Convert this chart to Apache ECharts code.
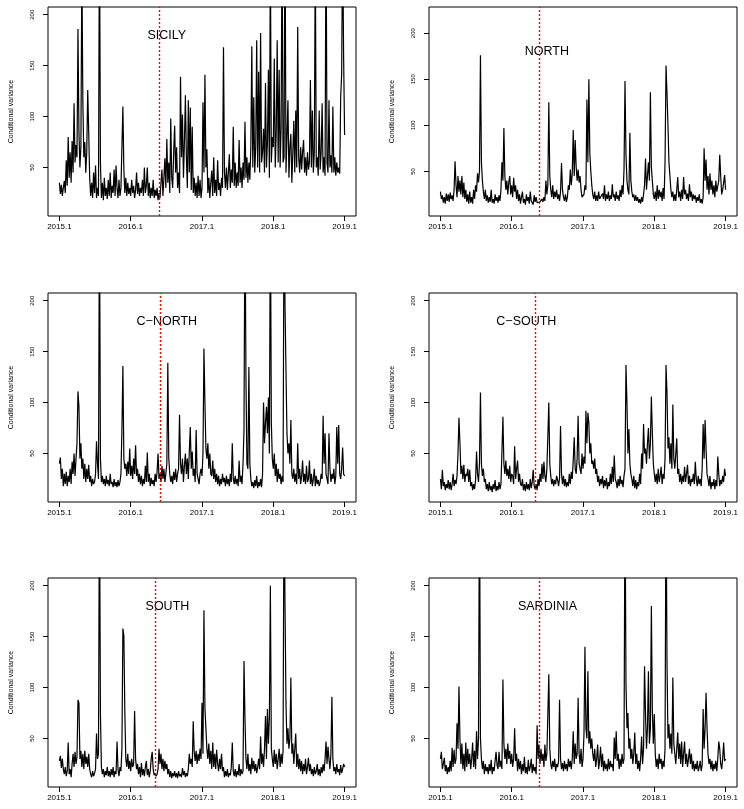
<!DOCTYPE html>
<html>
<head>
<meta charset="utf-8">
<title>Conditional variance</title>
<script src="https://cdn.jsdelivr.net/npm/echarts@6/dist/echarts.min.js"></script>
<style>
  html, body { margin: 0; padding: 0; background: #fff; }
  #chart { width: 744px; height: 809px; }
</style>
</head>
<body>
<div id="chart"></div>
<script>
// values read every 5 days, from 2015.1 to 2019.1
const STEP = 5;

const sicily = [
  35,24,33,22,30,37,25,57,32,80, 40,65,35,76,45,113,55,72,60,186,
  85,50,70,250,115,60,75,45,65,126, 85,40,22,35,20,45,25,52,20,30,
  22,300,55,20,35,18,40,22,30,19, 38,22,45,20,32,25,48,22,52,30,
  20,38,22,30,30,110,48,25,40,22, 35,24,30,22,38,25,32,20,28,45,
  24,35,22,30,25,38,22,50,25,32, 50,22,35,20,30,22,38,20,28,22,
  30,18,25,20,35,48,22,40,59,30, 78,35,55,25,98,40,30,65,91,45,
  70,30,45,25,139,60,102,40,75,121, 60,30,116,45,109,28,90,25,40,22,
  35,20,42,22,38,20,30,114,45,141, 50,68,25,40,20,35,47,22,60,25,
  38,22,57,28,35,22,40,30,168,45, 30,50,28,45,63,30,48,35,90,32,
  55,30,45,32,77,35,50,30,55,38, 95,40,60,35,55,38,70,169,50,119,
  45,70,175,50,144,45,182,55,65,88, 45,133,50,75,146,40,260,55,80,70,
  157,50,85,175,55,146,50,90,280,55, 60,300,45,80,116,40,70,83,35,65,
  96,45,106,50,188,60,45,70,48,65, 77,45,60,42,65,48,55,136,50,106,
  45,65,260,50,60,42,106,48,65,113, 45,60,42,300,55,45,116,50,62,45,
  110,45,60,42,55,45,50,44,119,142, 280,159,82
];
const north = [
  28,20,24,16,22,15,26,18,25,17, 27,20,24,18,30,61,35,22,45,28,
  40,25,45,22,38,20,30,17,25,15, 28,16,22,15,30,20,35,28,48,38,
  50,176,60,40,28,20,30,18,24,16, 22,17,30,16,20,15,25,18,22,16,
  24,18,30,60,40,97,45,30,40,25, 38,45,25,35,22,43,28,35,20,30,
  18,25,15,22,28,16,20,14,25,18, 22,15,28,18,20,14,24,17,22,16,
  18,15,17,16,20,17,22,18,40,25, 35,125,45,30,22,35,20,28,22,30,
  20,25,18,28,59,30,22,18,25,17, 22,35,30,52,35,48,95,45,84,55,
  40,52,38,45,30,22,20,25,35,30, 128,60,150,70,50,35,25,20,28,18,
  24,18,28,20,22,18,26,20,35,18, 25,20,28,18,24,20,36,22,25,18,
  28,20,24,18,30,22,35,25,52,148, 68,40,30,25,92,40,28,22,25,18,
  24,18,22,16,20,15,22,17,25,35, 64,30,45,60,40,136,55,40,25,20,
  28,18,35,20,30,22,28,18,32,20, 60,165,135,100,60,45,30,22,28,18,
  25,18,30,44,22,28,18,30,20,44, 25,30,20,26,18,36,22,28,18,25,
  20,24,16,22,18,25,16,20,15,22, 75,40,63,30,45,25,48,30,40,25,
  35,22,40,28,30,40,68,45,25,30, 28,46,30
];
const cNorth = [
  40,46,25,35,18,30,20,32,18,28, 22,35,20,42,30,50,28,45,60,111,
  96,45,60,35,45,25,40,22,35,25, 39,22,28,18,25,20,22,30,62,40,
  25,300,45,22,28,20,25,18,28,20, 24,18,30,20,22,17,25,18,22,17,
  24,18,22,30,73,136,45,35,40,28, 42,30,55,28,38,25,45,30,58,28,
  35,22,30,20,28,18,25,20,38,22, 51,22,30,18,26,20,24,18,30,22,
  32,50,25,30,22,38,25,35,22,30, 40,139,45,30,22,28,20,32,24,35,
  22,30,35,88,40,30,45,22,38,50, 30,45,25,52,76,35,52,28,35,22,
  73,30,25,20,30,35,28,50,153,100, 55,45,60,35,50,30,28,43,25,35,
  22,30,20,28,18,25,20,30,22,26, 18,28,20,25,18,30,22,60,25,20,
  28,20,25,18,43,22,28,20,40,73, 300,125,40,35,135,40,25,18,22,16,
  24,18,28,16,22,18,25,17,30,100, 60,80,96,70,105,50,300,80,45,35,
  50,28,40,22,35,25,30,20,28,22, 300,195,130,70,50,60,40,83,30,25,
  35,22,30,20,60,25,35,20,28,43, 22,30,20,38,22,25,43,20,30,18,
  25,35,18,28,20,24,18,22,30,25, 87,40,70,30,25,20,70,35,22,30,
  25,35,20,28,76,40,78,30,25,35, 56,30,28
];
const cSouth = [
  25,15,34,18,22,14,20,16,24,15, 22,14,20,30,18,24,20,28,50,85,
  60,30,38,25,39,22,30,28,35,22, 34,18,22,14,20,15,24,52,30,22,
  40,110,40,28,35,22,25,15,20,13, 22,14,18,12,20,15,24,13,18,14,
  22,15,20,52,86,40,30,43,28,35, 25,38,22,30,28,20,57,25,35,43,
  22,30,20,18,25,14,20,13,22,15, 20,14,25,16,22,34,18,15,20,14,
  25,18,30,22,40,25,42,28,22,35, 35,100,40,28,20,25,18,24,20,28,
  24,18,26,77,30,20,28,18,25,17, 22,18,30,20,32,25,43,66,35,30,
  45,87,40,35,30,50,35,47,40,92, 60,90,80,50,60,40,43,35,45,30,
  35,22,28,18,25,20,28,16,24,18, 26,15,22,18,30,20,37,22,48,25,
  22,16,25,18,28,20,24,17,28,35, 137,100,50,74,40,30,25,18,28,16,
  24,15,22,18,30,20,50,35,79,50, 55,40,60,75,45,60,106,70,40,30,
  22,30,20,35,22,28,37,20,30,25, 45,137,110,55,66,40,60,35,98,45,
  35,50,65,30,35,22,30,20,28,22, 37,22,30,39,20,28,18,25,22,30,
  20,42,25,18,28,20,25,18,35,79, 45,83,55,30,25,18,28,15,22,18,
  25,15,24,18,47,30,18,24,20,28, 22,35,28
];
const south = [
  28,33,21,30,20,15,22,13,18,46, 15,20,12,25,35,22,37,25,32,88,
  85,30,38,22,35,20,38,25,32,22, 35,20,15,12,18,13,16,20,55,30,
  35,300,75,22,15,20,12,18,14,22, 13,18,12,20,14,22,12,18,15,47,
  20,13,22,18,40,158,151,75,30,22, 35,20,28,18,30,22,25,77,30,20,
  25,15,22,12,26,14,20,13,22,28, 14,20,12,18,30,37,20,14,16,13,
  15,20,40,25,35,20,30,18,28,20, 25,15,20,12,18,11,16,13,18,12,
  16,11,18,13,15,12,21,14,18,12, 16,13,20,35,25,30,22,67,37,28,
  38,25,35,28,40,30,85,35,176,80, 60,40,30,45,25,38,20,46,22,35,
  20,39,25,18,30,20,35,18,22,12, 18,13,20,12,16,14,22,46,18,13,
  20,12,18,14,25,13,20,15,18,126, 70,30,20,35,18,25,15,31,20,28,
  18,25,16,22,30,20,52,25,35,22, 40,72,30,79,45,70,200,40,30,22,
  39,25,35,20,30,40,22,35,25,38, 300,180,84,45,60,40,50,110,35,45,
  25,40,55,22,35,20,30,18,28,15, 25,18,30,15,22,31,18,25,15,20,
  13,22,15,18,25,14,20,13,22,16, 25,18,30,47,25,42,30,20,35,91,
  30,18,22,15,25,17,20,14,24,16, 20,25,22
];
const sardinia = [
  30,37,20,25,31,18,24,15,22,17, 28,18,41,22,39,25,30,65,40,101,
  50,25,45,20,35,18,46,22,40,25, 35,20,30,46,22,38,20,57,30,50,
  300,50,30,20,28,15,25,18,22,15, 25,18,29,15,22,18,28,37,24,20,
  37,22,28,20,108,45,30,40,25,45, 30,38,25,35,22,30,60,28,35,18,
  30,20,28,15,25,18,32,16,22,15, 29,18,22,30,16,25,18,22,15,63,
  30,44,25,40,28,35,22,44,28,35, 35,113,40,25,20,28,22,30,18,25,
  22,28,88,30,20,26,18,28,20,25, 18,30,22,28,20,30,57,25,45,30,
  35,90,35,25,40,22,30,54,140,60, 50,116,45,57,40,50,35,28,40,22,
  30,44,20,28,42,22,35,18,28,20, 25,18,30,20,28,22,25,18,51,30,
  57,28,35,20,30,22,35,25,30,300, 104,60,75,40,50,30,40,25,35,56,
  25,35,20,28,18,30,52,25,40,121, 75,40,60,116,45,60,180,77,45,74,
  35,22,30,20,35,25,30,20,28,22, 40,300,125,50,64,40,55,35,110,45,
  35,25,40,56,30,45,25,47,22,35, 47,25,35,22,30,40,25,35,20,28,
  18,25,20,28,18,22,28,18,24,79, 40,60,95,60,35,25,30,20,28,18,
  25,20,28,18,30,47,40,25,20,30, 46,28,30
];

const zoneNames = ["SICILY", "NORTH", "C\u2212NORTH", "C\u2212SOUTH", "SOUTH", "SARDINIA"];
const zoneSeries = [sicily, north, cNorth, cSouth, south, sardinia];
const breakDays = [513, 507, 515, 485, 493, 507];   // red dotted line, days since 2015.1
const zoneLabelAt = [[550, 180], [545, 180], [550, 180], [440, 180], [553, 180], [548, 180]];
const yLimTop = [200, 220, 200, 200, 200, 200];
const yLimBottom = 10;
const xTicks = [0, 365, 730, 1095, 1460];
const xTickLabels = ["2015.1", "2016.1", "2017.1", "2018.1", "2019.1"];
const yTicks = [50, 100, 150, 200];

const FONT = "Liberation Sans, Arial, sans-serif";
const colLeft = [48, 429];
const rowTop = [7, 293, 578];
const W = 308, H = 209;

const chart = echarts.init(document.getElementById("chart"), null, { renderer: "canvas" });

const grids = [], xAxes = [], yAxes = [], series = [];
zoneSeries.forEach((vals, i) => {
    grids.push({
        left: colLeft[i % 2], top: rowTop[Math.floor(i / 2)], width: W, height: H,
        show: true, borderColor: "#000", borderWidth: 1, backgroundColor: "transparent"
    });
    // R style axis range: limits padded by 4%
    const xPad = (xTicks[4] - xTicks[0]) * 0.04;
    xAxes.push({
        type: "value", gridIndex: i, min: xTicks[0] - xPad, max: xTicks[4] + xPad,
        splitLine: { show: false }, axisLine: { show: false, onZero: false },
        axisTick: { show: true, customValues: xTicks, length: 5, lineStyle: { color: "#000" } },
        axisLabel: {
            customValues: xTicks, margin: 7, fontSize: 8, color: "#000", fontFamily: FONT,
            formatter: v => xTickLabels[xTicks.indexOf(v)] || ""
        }
    });
    const yPad = (yLimTop[i] - yLimBottom) * 0.04;
    yAxes.push({
        type: "value", gridIndex: i, min: yLimBottom - yPad, max: yLimTop[i] + yPad,
        name: "Conditional variance", nameLocation: "middle", nameGap: 33, nameRotate: 90,
        nameTextStyle: { fontSize: 7, color: "#000", fontFamily: FONT },
        splitLine: { show: false }, axisLine: { show: false, onZero: false },
        axisTick: { show: true, customValues: yTicks, length: 5, lineStyle: { color: "#000" } },
        axisLabel: {
            customValues: yTicks, rotate: 90, margin: 13, fontSize: 6, color: "#000", fontFamily: FONT
        }
    });
    series.push({
        type: "line", xAxisIndex: i, yAxisIndex: i,
        data: vals.map((v, k) => [k * STEP, v]),
        showSymbol: false, clip: true, animation: false,
        lineStyle: { color: "#000", width: 1.2 },
        markLine: {
            silent: true, symbol: ["none", "none"], label: { show: false },
            lineStyle: { color: "#ff0000", type: [2, 2], width: 1.4 },
            data: [{ xAxis: breakDays[i] }]
        }
    });
});

chart.setOption({
    backgroundColor: "#fff",
    animation: false,
    textStyle: { fontFamily: FONT },
    grid: grids,
    xAxis: xAxes,
    yAxis: yAxes,
    series: series
});

// zone names placed at data coordinates
chart.setOption({
    graphic: zoneNames.map((name, i) => {
        const p = chart.convertToPixel({ xAxisIndex: i, yAxisIndex: i }, zoneLabelAt[i]);
        return {
            type: "text", x: p[0], y: p[1],
            style: { text: name, fill: "#000", font: "12.5px " + FONT, align: "center", verticalAlign: "middle" }
        };
    })
});
</script>
</body>
</html>
